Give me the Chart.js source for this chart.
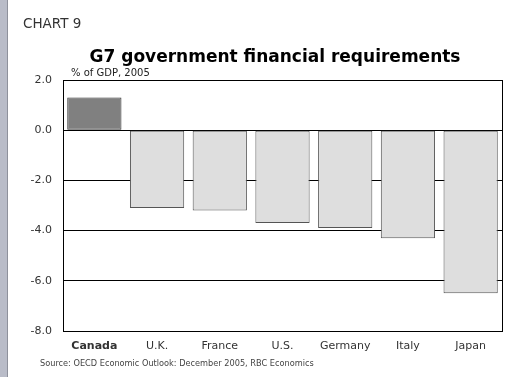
<!DOCTYPE html>
<html>
<head>
<meta charset="utf-8">
<script src="https://cdn.jsdelivr.net/npm/chart.js@4"></script>
<style>
  html, body { margin: 0; padding: 0; background: #fff; }
  #wrap { width: 530px; height: 377px; position: relative; }
</style>
</head>
<body>
<div id="wrap"><canvas id="chart9"></canvas></div>
<script>
// G7 government financial requirements, % of GDP, 2005
const countries = ["Canada", "U.K.", "France", "U.S.", "Germany", "Italy", "Japan"];
const requirements = [1.3, -3.1, -3.2, -3.7, -3.9, -4.3, -6.5];
const yTicks = [2, 0, -2, -4, -6, -8];

const FONT = "'DejaVu Sans', Verdana, sans-serif";

// page decoration and texts around the plot
const decor = {
    id: "decor",
    beforeDraw(chart) {
        const ctx = chart.ctx;
        ctx.save();
        ctx.fillStyle = "#fff";
        ctx.fillRect(0, 0, chart.width, chart.height);
        ctx.fillStyle = "#b9bcc8";
        ctx.fillRect(0, 0, 7, chart.height);
        ctx.fillStyle = "#8e919c";
        ctx.fillRect(7, 0, 1, chart.height);
        ctx.restore();
    },
    afterDraw(chart) {
        const ctx = chart.ctx;
        const a = chart.chartArea;
        ctx.save();
        ctx.strokeStyle = "#000";
        ctx.lineWidth = 1;
        ctx.strokeRect(Math.round(a.left) + 0.5, Math.round(a.top) + 0.5,
            Math.round(a.right - a.left), Math.round(a.bottom - a.top));

        ctx.fillStyle = "#333";
        ctx.textBaseline = "alphabetic";
        ctx.textAlign = "left";
        ctx.font = "13.5px " + FONT;
        ctx.fillText("CHART 9", 23, 28);

        ctx.fillStyle = "#000";
        ctx.font = "bold 17px " + FONT;
        ctx.textAlign = "center";
        ctx.fillText("G7 government financial requirements", 275, 62);

        ctx.fillStyle = "#222";
        ctx.font = "10px " + FONT;
        ctx.textAlign = "left";
        ctx.fillText("% of GDP, 2005", 71, 76);

        ctx.fillStyle = "#444";
        ctx.font = "8.2px " + FONT;
        ctx.fillText("Source: OECD Economic Outlook: December 2005, RBC Economics", 40, 366);
        ctx.restore();
    }
};

new Chart(document.getElementById("chart9"), {
    type: "bar",
    data: {
        labels: countries,
        datasets: [{
            data: requirements,
            backgroundColor: requirements.map((v, i) => i === 0 ? "#808080" : "#dedede"),
            borderColor: requirements.map((v, i) => i === 0 ? "#333" : "#555"),
            borderWidth: 1,
            borderSkipped: false,
            barPercentage: 0.94,
            categoryPercentage: 0.92
        }]
    },
    options: {
        responsive: true,
        maintainAspectRatio: false,
        animation: false,
        layout: { padding: { top: 80, right: 28, bottom: 0, left: 0 } },
        plugins: {
            legend: { display: false },
            tooltip: { enabled: false }
        },
        scales: {
            x: {
                grid: { display: false },
                border: { display: false },
                ticks: {
                    color: "#333",
                    padding: 1,
                    maxRotation: 0,
                    font: ctx => ({ family: FONT, size: 11, weight: ctx.index === 0 ? "bold" : "normal" })
                },
                afterFit: scale => { scale.height = 46; }
            },
            y: {
                min: -8,
                max: 2,
                afterBuildTicks: scale => { scale.ticks = yTicks.map(v => ({ value: v })); },
                grid: { color: "#000", lineWidth: 1, drawTicks: false },
                border: { display: false },
                ticks: {
                    color: "#333",
                    padding: 11,
                    font: { family: FONT, size: 11 },
                    callback: v => v.toFixed(1)
                },
                afterFit: scale => { scale.width = 63; }
            }
        }
    },
    plugins: [decor]
});
</script>
</body>
</html>
